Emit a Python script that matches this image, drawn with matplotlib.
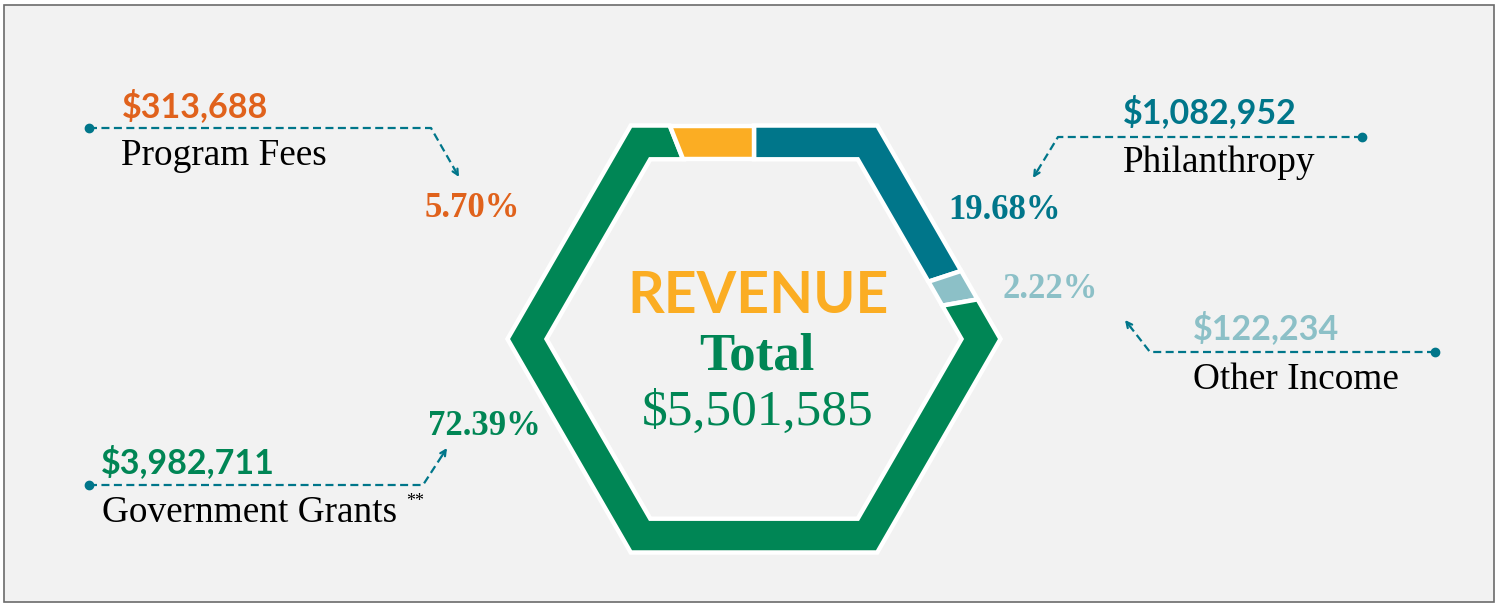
import numpy as np
import matplotlib.pyplot as plt
from matplotlib.patches import Polygon, Rectangle

# Revenue by source, clockwise from the top of the hexagon
categories = ['Philanthropy', 'Other Income', 'Government Grants', 'Program Fees']
amounts = [1082952, 122234, 3982711, 313688]
seg_colors = ['#00768a', '#8cc0c7', '#008655', '#fbad23']
text_colors = ['#00768a', '#8cc0c7', '#008655', '#e0621c']
total = sum(amounts)

W, H = 1499, 607
fig = plt.figure(figsize=(W / 100, H / 100), dpi=100)
ax = fig.add_axes([0, 0, 1, 1])
ax.set_xlim(0, W)
ax.set_ylim(H, 0)
ax.axis('off')
fig.patch.set_facecolor('white')

ax.add_patch(Rectangle((4, 5), 1490, 597, facecolor='#f2f2f2',
                       edgecolor='#6b6b6b', lw=1.2, zorder=0))

# hexagon geometry (pixels)
cx, cy = 754, 339
R_out, R_in = 246.5, 207.5
h = R_out * np.sqrt(3) / 2
pts = [(cx, cy - h), (cx + R_out / 2, cy - h), (cx + R_out, cy),
       (cx + R_out / 2, cy + h), (cx - R_out / 2, cy + h), (cx - R_out, cy),
       (cx - R_out / 2, cy - h), (cx, cy - h)]
pts = np.array(pts)
seglen = np.hypot(*np.diff(pts, axis=0).T)
cum = np.concatenate([[0], np.cumsum(seglen)])
perim = cum[-1]


def point_at(s):
    i = min(np.searchsorted(cum, s, side='right') - 1, len(seglen) - 1)
    t = (s - cum[i]) / seglen[i]
    return pts[i] + t * (pts[i + 1] - pts[i])


start = 0.0
for amt, col in zip(amounts, seg_colors):
    s0 = start
    s1 = start + amt / total * perim
    outer = [point_at(s0)]
    for k in range(1, len(cum) - 1):
        if s0 < cum[k] < s1:
            outer.append(pts[k])
    outer.append(point_at(s1))
    outer = np.array(outer)
    inner = np.array([cx, cy]) + (outer - [cx, cy]) * R_in / R_out
    poly = np.vstack([outer, inner[::-1]])
    ax.add_patch(Polygon(poly, closed=True, facecolor=col, edgecolor='white',
                         lw=3.2, joinstyle='miter', zorder=2))
    start = s1

sans = 'Lato'
serif = 'Liberation Serif'

# center text
ax.text(cx + 4, 313, 'REVENUE', color='#fbad23', fontsize=41, fontfamily=sans,
        fontweight='bold', ha='center', va='baseline')
ax.text(cx + 3, 369, 'Total', color='#008655', fontsize=38, fontfamily=serif,
        fontweight='bold', ha='center', va='baseline')
ax.text(cx + 4, 425, '${:,}'.format(total), color='#008655', fontsize=37,
        fontfamily=serif, ha='center', va='baseline')

# label layout: amount/name position, percent position, connector path
amount_xy = [(1123, 123), (1193, 339), (101, 473), (122, 117)]
name_xy = [(1123, 172), (1193, 389), (102, 522), (121, 165)]
pct_xy = [(948, 219), (1003, 298), (428, 435), (425, 217)]
paths = [[(1362, 137), (1058, 137), (1033, 178)],
         [(1435, 352), (1150, 352), (1125, 320)],
         [(89, 485), (423, 485), (447, 448)],
         [(89, 128), (431, 128), (459, 177)]]

line_col = '#00768a'
for i, cat in enumerate(categories):
    ax.text(*amount_xy[i], '${:,}'.format(amounts[i]), color=text_colors[i],
            fontsize=24.5, fontfamily=sans, fontweight='bold', va='baseline')
    ax.text(*name_xy[i], cat, color='black', fontsize=26.8, fontfamily=serif,
            va='baseline')
    ax.text(*pct_xy[i], '{:.2f}%'.format(100 * amounts[i] / total),
            color=text_colors[i], fontsize=25, fontfamily=serif,
            fontweight='bold', va='baseline')
    p = np.array(paths[i], dtype=float)
    tip = p[-1]
    d = p[-1] - p[-2]
    back = tip - d / np.hypot(*d) * 9
    line = np.vstack([p[:-1], back])
    ax.plot(line[:, 0], line[:, 1], color=line_col, lw=1.6,
            ls=(0, (3.6, 2.0)), zorder=3)
    ax.plot(*p[0], 'o', color=line_col, ms=6, zorder=3)
    ax.annotate('', xy=tip, xytext=back,
                arrowprops=dict(arrowstyle='->', color=line_col, lw=1.6,
                                shrinkA=0, shrinkB=0,
                                mutation_scale=10))

ax.text(406, 506, '**', color='black', fontsize=13, fontfamily=serif,
        va='baseline')

fig.savefig('out.png', dpi=100, facecolor=fig.get_facecolor())
